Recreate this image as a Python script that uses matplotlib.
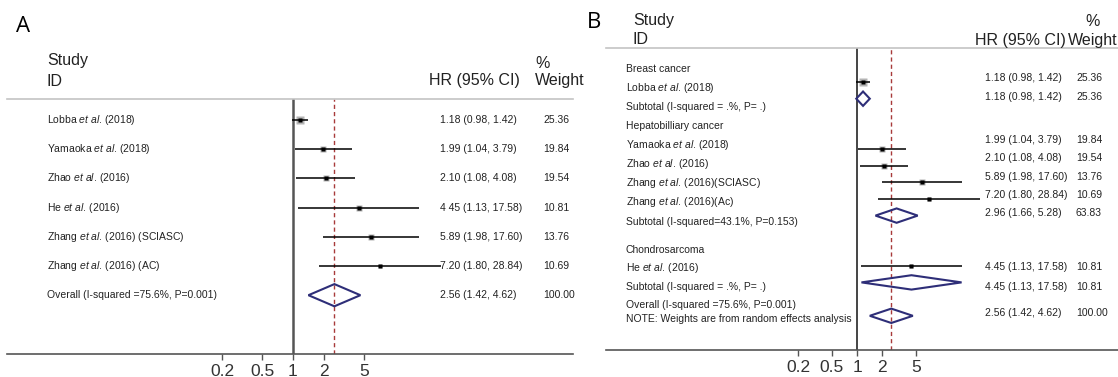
import matplotlib.pyplot as plt

plt.rcParams['font.family'] = ['Liberation Sans', 'DejaVu Sans']
plt.rcParams['mathtext.fontset'] = 'custom'
plt.rcParams['mathtext.rm'] = 'Liberation Sans'
plt.rcParams['mathtext.it'] = 'Liberation Sans:italic'

W, H = 1118, 377

# ---- panel A: all studies pooled ----
a_authors = ['Lobba', 'Yamaoka', 'Zhao', 'He', 'Zhang', 'Zhang']
a_years = ['(2018)', '(2018)', '(2016)', '(2016)', '(2016) (SCIASC)', '(2016) (AC)']
a_hr = [1.18, 1.99, 2.10, 4.45, 5.89, 7.20]
a_lo = [0.98, 1.04, 1.08, 1.13, 1.98, 1.80]
a_hi = [1.42, 3.79, 4.08, 17.58, 17.60, 28.84]
a_weight = [25.36, 19.84, 19.54, 10.81, 13.76, 10.69]
a_hr_text = ['1.18 (0.98, 1.42)', '1.99 (1.04, 3.79)', '2.10 (1.08, 4.08)',
             '4 45 (1.13, 17.58)', '5.89 (1.98, 17.60)', '7.20 (1.80, 28.84)']

overall_hr, overall_lo, overall_hi = 2.56, 1.42, 4.62
overall_weight = 100.00
overall_label = 'Overall (I-squared =75.6%, P=0.001)'

# ---- panel B: subgroups by cancer type ----
b_groups = ['Breast cancer', 'Hepatobilliary cancer', 'Chondrosarcoma']
b_group_of = [0, 1, 1, 1, 1, 2]
b_authors = ['Lobba', 'Yamaoka', 'Zhao', 'Zhang', 'Zhang', 'He']
b_years = ['(2018)', '(2018)', '(2016)', '(2016)(SCIASC)', '(2016)(Ac)', '(2016)']
b_hr = [1.18, 1.99, 2.10, 5.89, 7.20, 4.45]
b_lo = [0.98, 1.04, 1.08, 1.98, 1.80, 1.13]
b_hi = [1.42, 3.79, 4.08, 17.60, 28.84, 17.58]
b_weight = [25.36, 19.84, 19.54, 13.76, 10.69, 10.81]
b_sub_hr = [1.18, 2.96, 4.45]
b_sub_lo = [0.98, 1.66, 1.13]
b_sub_hi = [1.42, 5.28, 17.58]
b_sub_weight = [25.36, 63.83, 10.81]
b_sub_labels = ['Subtotal (I-squared = .%, P= .)',
                'Subtotal (I-squared=43.1%, P=0.153)',
                'Subtotal (I-squared = .%, P= .)']
note = 'NOTE: Weights are from random effects analysis'

ticks = [0.2, 0.5, 1, 2, 5]
tick_labels = ['0.2', '0.5', '1', '2', '5']

TXT = '#222222'
DIAMOND = '#2e2e78'
REFLINE = '#a83a3a'

fig = plt.figure(figsize=(W / 100, H / 100), dpi=100)


def put(x, y, s, **kw):
    # text placed in pixel coordinates of the figure
    kw.setdefault('color', TXT)
    kw.setdefault('va', 'center')
    return fig.text(x / W, 1 - y / H, s, **kw)


def study(author, year):
    return author + r' $\mathit{et\ al.}\,$' + year


def make_axes(left, right, top, bottom, one_px, dec_px, row0_px, row_px):
    ax = fig.add_axes([left / W, 1 - bottom / H, (right - left) / W, (bottom - top) / H])
    ax.set_xscale('log')
    ax.set_xlim(10 ** ((left - one_px) / dec_px), 10 ** ((right - one_px) / dec_px))
    ax.set_ylim((bottom - row0_px) / row_px, (top - row0_px) / row_px)
    ax.patch.set_alpha(0)
    for s in ('left', 'right'):
        ax.spines[s].set_visible(False)
    ax.spines['top'].set_color('#c4c4c4')
    ax.spines['top'].set_linewidth(1.2)
    ax.spines['bottom'].set_color('#555555')
    ax.spines['bottom'].set_linewidth(1.2)
    ax.set_yticks([])
    ax.set_xticks(ticks)
    ax.set_xticklabels(tick_labels)
    ax.minorticks_off()
    ax.tick_params(axis='x', which='both', length=4, width=1, color='#555555',
                   labelsize=12.5, labelcolor='#333333', pad=3)
    return ax


def study_mark(ax, y, hr, lo, hi, w, k):
    ax.plot([lo, hi], [y, y], color='black', lw=1.1, solid_capstyle='butt', zorder=3)
    ax.plot([hr], [y], marker='s', ms=k * w ** 0.5, color='#b4b4b4', mec='none', zorder=2)
    ax.plot([hr], [y], marker='s', ms=2.2, color='black', mec='none', zorder=4)


def diamond(ax, y, hr, lo, hi, h):
    ax.fill([lo, hr, hi, hr], [y, y - h, y, y + h], facecolor='none',
            edgecolor=DIAMOND, lw=1.5, joinstyle='miter', zorder=3)


# ================= panel A =================
axa = make_axes(7, 573, 99, 354, one_px=293, dec_px=101.4, row0_px=120, row_px=29.2)
axa.axvline(1, color='#555555', lw=1.8, zorder=1)
axa.axvline(overall_hr, color=REFLINE, lw=1.0, ls=(0, (3, 2.2)), zorder=1)

for i in range(len(a_hr)):
    study_mark(axa, i, a_hr[i], a_lo[i], a_hi[i], a_weight[i], 1.1)
diamond(axa, len(a_hr), overall_hr, overall_lo, overall_hi, 0.38)

put(16, 27, 'A', fontsize=16, family='Open Sans', color='black')
put(47, 61, 'Study', fontsize=11.5)
put(47, 81, 'ID', fontsize=11.5)
put(520, 81, 'HR (95% CI)', fontsize=11.5, ha='right')
put(535, 63, '%', fontsize=11.5)
put(535, 81, 'Weight', fontsize=11.5)

ya = lambda r: 120 + 29.2 * r
for i in range(len(a_hr)):
    put(47, ya(i), study(a_authors[i], a_years[i]), fontsize=7.5)
    put(440, ya(i), a_hr_text[i], fontsize=7.5)
    put(543, ya(i), f'{a_weight[i]:.2f}', fontsize=7.5)
n = len(a_hr)
put(47, ya(n), overall_label, fontsize=7.5)
put(440, ya(n), f'{overall_hr:.2f} ({overall_lo:.2f}, {overall_hi:.2f})', fontsize=7.5)
put(543, ya(n), f'{overall_weight:.2f}', fontsize=7.5)

# ================= panel B =================
axb = make_axes(606, 1118, 48, 350, one_px=857, dec_px=84, row0_px=82, row_px=16.7)
axb.axvline(1, color='#444444', lw=1.4, zorder=1)
axb.axvline(overall_hr, color=REFLINE, lw=1.0, ls=(0, (3, 2.2)), zorder=1)

# walk the groups: header, studies, subtotal, blank line
row = -1
for g in range(len(b_groups)):
    row += 1  # group header
    for i in range(len(b_hr)):
        if b_group_of[i] == g:
            study_mark(axb, row, b_hr[i], b_lo[i], b_hi[i], b_weight[i], 1.05)
            row += 1
    diamond(axb, row, b_sub_hr[g], b_sub_lo[g], b_sub_hi[g], 0.43)
    row += 2
diamond(axb, row, overall_hr, overall_lo, overall_hi, 0.43)

put(587, 22, 'B', fontsize=16, family='Open Sans', color='black')
put(633, 20, 'Study', fontsize=11.5)
put(633, 39, 'ID', fontsize=11.5)
put(1066, 40, 'HR (95% CI)', fontsize=11.5, ha='right')
put(1085, 22, '%', fontsize=11.5)
put(1068, 40, 'Weight', fontsize=11.5)

# text lines of the left column and of the value columns
b_label_y = [69, 88, 107, 126, 145, 164, 183, 202, 222, 250, 268, 287, 305, 319]
b_value_y = [78, 97, 140, 158, 177, 195, 213, 267, 287, 313]

lines = []
values = []
for g in range(len(b_groups)):
    lines.append(b_groups[g])
    for i in range(len(b_hr)):
        if b_group_of[i] == g:
            lines.append(study(b_authors[i], b_years[i]))
            values.append((b_hr[i], b_lo[i], b_hi[i], b_weight[i]))
    lines.append(b_sub_labels[g])
    values.append((b_sub_hr[g], b_sub_lo[g], b_sub_hi[g], b_sub_weight[g]))
lines += [overall_label, note]
values.append((overall_hr, overall_lo, overall_hi, overall_weight))

for s, y in zip(lines, b_label_y):
    put(626, y, s, fontsize=7.5)
for (hr, lo, hi, w), y in zip(values, b_value_y):
    put(985, y, f'{hr:.2f} ({lo:.2f}, {hi:.2f})', fontsize=7.5)
    put(1076, y, f'{w:.2f}', fontsize=7.5)

fig.savefig('out.png', dpi=100)
